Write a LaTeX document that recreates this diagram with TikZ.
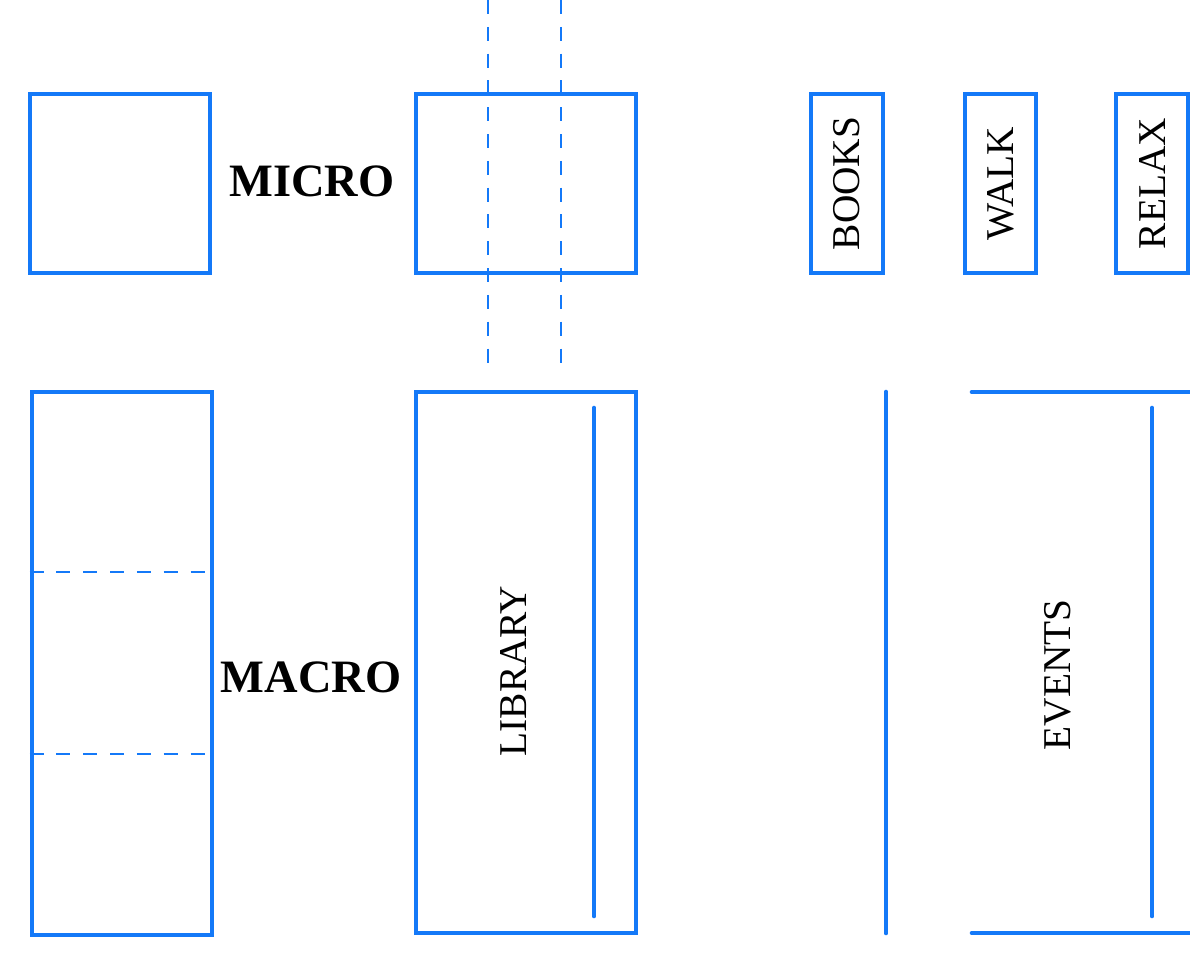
\documentclass[tikz,border=0pt]{standalone}
\usepackage{fontspec}
\setmainfont{Liberation Serif}
\usetikzlibrary{positioning}
\definecolor{planblue}{HTML}{1479F8}
\tikzset{
  planbox/.style={
    draw=planblue,
    line width=3.3pt,
    inner sep=0pt,
    font=\fontsize{28}{30}\selectfont
  },
  planline/.style={draw=planblue, line width=3.3pt, line cap=round},
  planguide/.style={draw=planblue, line width=2.1pt, dash pattern=on 0.35cm off 0.32cm},
  scalelabel/.style={font=\fontsize{33}{36}\selectfont\bfseries},
  sidelabel/.style={rotate=90, font=\fontsize{28}{30}\selectfont}
}
\begin{document}
\begin{tikzpicture}[x=0.025cm, y=-0.025cm]
  \useasboundingbox (0,0) rectangle (1190,954);

  % micro row
  \node[planbox, minimum width=4.5cm, minimum height=4.475cm] (microA) at (120,183.5) {};
  \node[scalelabel] (micro) at (312,181) {MICRO};
  \node[planbox, minimum width=5.5cm, minimum height=4.475cm] (microB) at (526,183.5) {};
  \node[planbox, rotate=90, minimum width=4.475cm, minimum height=1.8cm] (books) at (847,183.5) {BOOKS};
  \node[planbox, rotate=90, minimum width=4.475cm, minimum height=1.775cm] (walk) at (1000.5,183.5) {WALK};
  \node[planbox, rotate=90, minimum width=4.475cm, minimum height=1.8cm] (relax) at (1152,183.5) {RELAX};

  % macro row
  \node[planbox, minimum width=4.5cm, minimum height=13.575cm] (macroA) at (122,663.5) {};
  \node[scalelabel] (macro) at (311,677) {MACRO};
  \node[planbox, minimum width=5.5cm, minimum height=13.525cm] (library) at (526,662.5) {};
  \node[sidelabel] (librarytext) at (514,671) {LIBRARY};
  \node[sidelabel] (eventstext) at (1058,675) {EVENTS};

  % guides through the library
  \coordinate (guideAtop) at (488,0);
  \coordinate (guideAbot) at (488,365);
  \coordinate (guideBtop) at (561,0);
  \coordinate (guideBbot) at (561,365);
  \draw[planguide] (guideAtop) -- (guideAbot);
  \draw[planguide] (guideBtop) -- (guideBbot);

  % thirds of the macro block
  \draw[planguide] (macroA.west |- 0,572) -- (macroA.east |- 0,572);
  \draw[planguide] (macroA.west |- 0,754) -- (macroA.east |- 0,754);

  % shelves and walls
  \coordinate (shelfAtop) at (594,408);
  \coordinate (shelfAbot) at (594,916);
  \draw[planline] (shelfAtop) -- (shelfAbot);
  \coordinate (wallTop) at (886,392);
  \coordinate (wallBot) at (886,933);
  \draw[planline] (wallTop) -- (wallBot);
  \coordinate (eventsNW) at (972,392);
  \coordinate (eventsNE) at (1192,392);
  \coordinate (eventsSW) at (972,933);
  \coordinate (eventsSE) at (1192,933);
  \draw[planline] (eventsNW) -- (eventsNE);
  \draw[planline] (eventsSW) -- (eventsSE);
  \coordinate (shelfBtop) at (1152,408);
  \coordinate (shelfBbot) at (1152,916);
  \draw[planline] (shelfBtop) -- (shelfBbot);
\end{tikzpicture}
\end{document}
